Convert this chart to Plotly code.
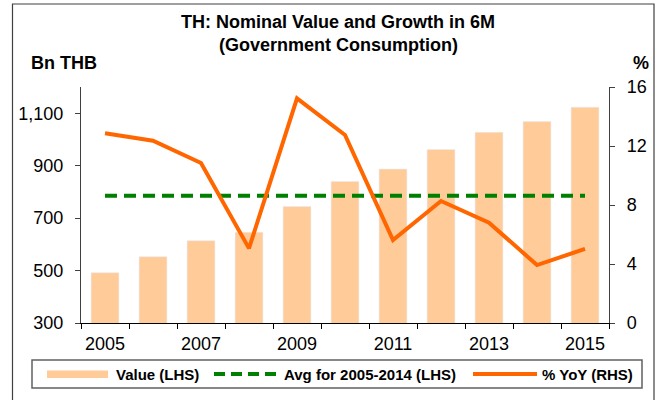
import plotly.graph_objects as go

years = [2005, 2006, 2007, 2008, 2009, 2010, 2011, 2012, 2013, 2014, 2015]
value_bn_thb = [492, 553, 614, 646, 744, 840, 887, 962, 1027, 1068, 1123]
yoy_pct = [12.86, 12.36, 10.85, 5.06, 15.23, 12.75, 5.63, 8.27, 6.80, 3.93, 5.02]
avg_2005_2014 = 785
x_tick_labels = ["2005", "2007", "2009", "2011", "2013", "2015"]
left_ticks = [300, 500, 700, 900, 1100]
left_tick_labels = ["300", "500", "700", "900", "1,100"]
right_ticks = [0, 4, 8, 12, 16]

FONT = "Liberation Sans, Arial, sans-serif"
BAR = "#FFCC99"
GREEN = "#008000"
ORANGE = "#FF6600"

# plot area in pixels: x 81..609, y 87..323
L, R, T, B = 81, 609, 87, 323
W, H = R - L, B - T


def px(x):
    return (x - L) / W


def py(y):
    return (B - y) / H


fig = go.Figure()
fig.add_trace(go.Bar(x=years, y=value_bn_thb, marker_color=BAR, width=0.58,
                     name="Value (LHS)", yaxis="y"))
fig.add_trace(go.Scatter(x=[years[0], years[-1]], y=[avg_2005_2014] * 2, mode="lines",
                         line=dict(color=GREEN, width=4, dash="12px,7px"),
                         name="Avg for 2005-2014 (LHS)", yaxis="y"))
fig.add_trace(go.Scatter(x=years, y=yoy_pct, mode="lines",
                         line=dict(color=ORANGE, width=4),
                         name="% YoY (RHS)", yaxis="y2"))

shapes = [
    # outer frame
    dict(type="rect", xref="paper", yref="paper", x0=px(12.5), x1=px(654), y0=py(420), y1=py(4),
         line=dict(color="#404040", width=1.2), fillcolor="rgba(0,0,0,0)", layer="above"),
    # legend box
    dict(type="rect", xref="paper", yref="paper", x0=px(32), x1=px(642), y0=py(388), y1=py(360),
         line=dict(color="#606060", width=1.5), fillcolor="rgba(0,0,0,0)"),
    # legend swatches
    dict(type="rect", xref="paper", yref="paper", x0=px(47), x1=px(108), y0=py(378), y1=py(370.5),
         line=dict(width=0), fillcolor=BAR),
    dict(type="line", xref="paper", yref="paper", x0=px(214), x1=px(277), y0=py(374), y1=py(374),
         line=dict(color=GREEN, width=4, dash="11px,6px")),
    dict(type="line", xref="paper", yref="paper", x0=px(473), x1=px(537), y0=py(374), y1=py(374),
         line=dict(color=ORANGE, width=4)),
]

legfont = dict(family=FONT, size=15, color="black")
annotations = [
    dict(text="<b>TH: Nominal Value and Growth in 6M</b>", xref="paper", yref="paper",
         x=px(338), y=py(22), xanchor="center", yanchor="middle", showarrow=False,
         font=dict(family=FONT, size=18, color="black")),
    dict(text="<b>(Government Consumption)</b>", xref="paper", yref="paper",
         x=px(338), y=py(45), xanchor="center", yanchor="middle", showarrow=False,
         font=dict(family=FONT, size=18, color="black")),
    dict(text="<b>Bn THB</b>", xref="paper", yref="paper", x=px(29), y=py(63),
         xanchor="left", yanchor="middle", showarrow=False,
         font=dict(family=FONT, size=18, color="black")),
    dict(text="<b>%</b>", xref="paper", yref="paper", x=px(651), y=py(63),
         xanchor="right", yanchor="middle", showarrow=False,
         font=dict(family=FONT, size=18, color="black")),
    dict(text="<b>Value (LHS)</b>", xref="paper", yref="paper", x=px(114), y=py(374),
         xanchor="left", yanchor="middle", showarrow=False, font=legfont),
    dict(text="<b>Avg for 2005-2014 (LHS)</b>", xref="paper", yref="paper", x=px(282), y=py(374),
         xanchor="left", yanchor="middle", showarrow=False, font=legfont),
    dict(text="<b>% YoY (RHS)</b>", xref="paper", yref="paper", x=px(540), y=py(374),
         xanchor="left", yanchor="middle", showarrow=False, font=legfont),
]

tickfont = dict(family=FONT, size=18, color="black")
fig.update_layout(
    width=664, height=400,
    margin=dict(l=L, r=664 - R, t=T, b=400 - B, pad=0),
    paper_bgcolor="white", plot_bgcolor="white",
    showlegend=False,
    xaxis=dict(range=[2004.5, 2015.5], tickmode="array",
               tickvals=[int(t) for t in x_tick_labels], ticktext=x_tick_labels,
               ticks="", showgrid=False, zeroline=False,
               showline=True, linecolor="black", linewidth=1.2,
               tickfont=tickfont, ticklabelstandoff=4,
               minor=dict(tickmode="array", tickvals=[y - 0.5 for y in years] + [years[-1] + 0.5],
                          ticks="outside", ticklen=5, tickcolor="black", tickwidth=1.2, showgrid=False)),
    yaxis=dict(range=[300, 1200], tickmode="array", tickvals=left_ticks, ticktext=left_tick_labels,
               ticks="outside", ticklen=5, tickcolor="#404040", tickwidth=1.2,
               showgrid=False, zeroline=False, showline=True, linecolor="#404040", linewidth=1.2,
               tickfont=tickfont, ticklabelstandoff=8),
    yaxis2=dict(range=[0, 16], tickmode="array", tickvals=right_ticks, overlaying="y", side="right",
                ticks="outside", ticklen=5, tickcolor="#404040", tickwidth=1.2,
                showgrid=False, zeroline=False, showline=True, linecolor="#404040", linewidth=1.2,
                tickfont=tickfont, ticklabelstandoff=8),
    shapes=shapes,
    annotations=annotations,
)

fig.write_html("out.html", config={"displayModeBar": False},
               post_script="document.body.style.margin='0';document.body.style.overflow='hidden';")
